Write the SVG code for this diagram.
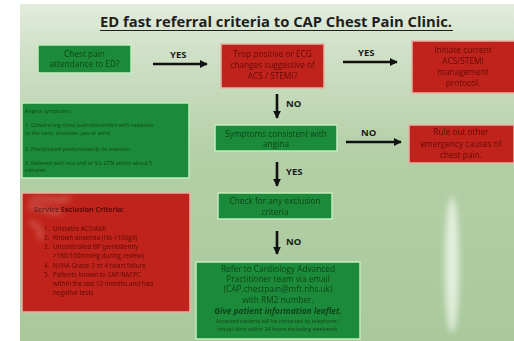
<svg xmlns="http://www.w3.org/2000/svg" width="514" height="341" viewBox="0 0 514 341">
<defs>
<linearGradient id="bg" x1="0" y1="0" x2="0" y2="1">
<stop offset="0" stop-color="#e2ecdc"/>
<stop offset="0.15" stop-color="#cfe0c6"/>
<stop offset="0.45" stop-color="#b3cfa6"/>
<stop offset="1" stop-color="#a9c89c"/>
</linearGradient>
<marker id="ah" viewBox="0 0 10 10" refX="9" refY="5" markerWidth="3" markerHeight="3" orient="auto" markerUnits="strokeWidth">
<path d="M0,0 L10,5 L0,10 Z" fill="#111"/>
</marker>
<filter id="blur" x="-50%" y="-50%" width="200%" height="200%"><feGaussianBlur stdDeviation="3"/></filter>
<filter id="soft"><feGaussianBlur stdDeviation="0.35"/></filter>
</defs>
<style>
.g{fill:#1f8a3b;stroke:#c4ecbc;stroke-width:1.5}
.r{fill:#c0241b;stroke:#e6b4a4;stroke-width:1.5}
.tg{font-family:"Open Sans","Noto Sans",sans-serif;font-size:8.3px;fill:#0b4518;text-anchor:middle}
.tr{font-family:"Open Sans","Noto Sans",sans-serif;font-size:8.3px;fill:#650a06;text-anchor:middle}
.lbl{font-family:"Open Sans","Noto Sans",sans-serif;font-size:9.5px;font-weight:bold;fill:#1a1a1a}
.ar{stroke:#111;stroke-width:2.6;fill:none;marker-end:url(#ah)}
.sg{font-family:"Open Sans","Noto Sans",sans-serif;font-size:5.4px;fill:#0b4518}
.sr{font-family:"Open Sans","Noto Sans",sans-serif;font-size:6.3px;fill:#5a0805}
.sm{font-size:5.3px}
.hd{font-size:7px;font-weight:bold}
.it{font-style:italic;font-weight:bold}
</style>
<rect width="514" height="341" fill="#ffffff"/>
<rect x="20" y="4" width="494" height="337" fill="url(#bg)"/>
<ellipse cx="452" cy="265" rx="7" ry="68" fill="#f4fbf0" opacity="0.75" filter="url(#blur)"/>
<g id="title">
<text x="276" y="27" font-family="Open Sans,Noto Sans,sans-serif" font-size="14.5" font-weight="bold" fill="#1e1e1e" text-anchor="middle" textLength="352" lengthAdjust="spacingAndGlyphs">ED fast referral criteria to CAP Chest Pain Clinic.</text>
<line x1="100" y1="30.5" x2="453" y2="30.5" stroke="#1e1e1e" stroke-width="1.1"/>
</g>
<g id="n1" filter="url(#soft)">
<rect class="g" x="38" y="45" width="93" height="28"/>
<text class="tg" x="84.5" y="57">Chest pain</text>
<text class="tg" x="84.5" y="67">attendance to ED?</text>
</g>
<g id="n2" filter="url(#soft)">
<rect class="r" x="221" y="44" width="103" height="44"/>
<text class="tr" x="272.5" y="57">Trop positive or ECG</text>
<text class="tr" x="272.5" y="68">changes suggestive of</text>
<text class="tr" x="272.5" y="79">ACS / STEMI?</text>
</g>
<g id="n3" filter="url(#soft)">
<rect class="r" x="412" y="41" width="103" height="52"/>
<text class="tr" x="463" y="53">Initiate current</text>
<text class="tr" x="463" y="64">ACS/STEMI</text>
<text class="tr" x="463" y="75">management</text>
<text class="tr" x="463" y="86">protocol.</text>
</g>
<g id="n4" filter="url(#soft)">
<rect class="g" x="22" y="103" width="167" height="75"/>
<text class="sg" x="25" y="113">Angina symptoms:</text>
<text class="sg" x="25" y="127">1. Constricting chest pain/discomfort with radiation</text>
<text class="sg" x="25" y="135">to the neck, shoulder, jaw or arms</text>
<text class="sg" x="25" y="151">2. Precipitated predominantly on exertion</text>
<text class="sg" x="25" y="165">3. Relieved with rest and or S/L GTN within about 5</text>
<text class="sg" x="25" y="172">minutes</text>
</g>
<g id="n5" filter="url(#soft)">
<rect class="g" x="215" y="125" width="122" height="26"/>
<text class="tg" x="276" y="137">Symptoms consistent with</text>
<text class="tg" x="276" y="147">angina</text>
</g>
<g id="n6" filter="url(#soft)">
<rect class="r" x="409" y="125" width="105" height="38"/>
<text class="tr" x="461" y="135">Rule out other</text>
<text class="tr" x="461" y="147">emergency causes of</text>
<text class="tr" x="461" y="158">chest pain.</text>
</g>
<g id="n7" filter="url(#soft)">
<rect class="r" x="22" y="193" width="168" height="119"/>
<text class="sr hd" x="34" y="212">Service Exclusion Criteria:</text>
<text class="sr" x="44" y="231">1.</text><text class="sr" x="53" y="231">Unstable ACS/AMI</text>
<text class="sr" x="44" y="240">2.</text><text class="sr" x="53" y="240">Known anaemia (Hb &lt;100g/l)</text>
<text class="sr" x="44" y="249">3.</text><text class="sr" x="53" y="249">Uncontrolled BP (persistently</text>
<text class="sr" x="53" y="258">&gt;180/100mmHg during review)</text>
<text class="sr" x="44" y="268">4.</text><text class="sr" x="53" y="268">NYHA Grade 3 or 4 heart failure</text>
<text class="sr" x="44" y="277">5.</text><text class="sr" x="53" y="277">Patients known to CAP/RACPC</text>
<text class="sr" x="53" y="286">within the last 12 months and had</text>
<text class="sr" x="53" y="295">negative tests</text>
<path d="M30,200 C45,196 55,204 70,198 M28,207 C40,206 48,214 62,212 M30,222 C38,224 42,232 40,240" stroke="#f4e6e0" stroke-width="2" fill="none" opacity="0.6" filter="url(#blur)"/>
</g>
<g id="n8" filter="url(#soft)">
<rect class="g" x="218" y="193" width="114" height="26"/>
<text class="tg" x="275" y="204">Check for any exclusion</text>
<text class="tg" x="275" y="215">criteria</text>
</g>
<g id="n9" filter="url(#soft)">
<rect class="g" x="196" y="262" width="164" height="77"/>
<text class="tg" x="278" y="272">Refer to Cardiology Advanced</text>
<text class="tg" x="278" y="282">Practitioner team via email</text>
<text class="tg" x="278" y="292">(CAP.chestpain@mft.nhs.uk)</text>
<text class="tg" x="278" y="303">with RM2 number.</text>
<text class="tg it" x="278" y="314">Give patient information leaflet.</text>
<text class="tg sm" x="278" y="323">Accepted patients will be contacted by telephone /</text>
<text class="tg sm" x="278" y="331">virtual clinic within 24 hours excluding weekends.</text>
</g>
<g id="connectors">
<line class="ar" x1="153" y1="64" x2="207" y2="64"/>
<line class="ar" x1="343" y1="62" x2="397" y2="62"/>
<line class="ar" x1="277" y1="94" x2="277" y2="118"/>
<line class="ar" x1="346" y1="142" x2="401" y2="142"/>
<line class="ar" x1="277" y1="162" x2="277" y2="186"/>
<line class="ar" x1="277" y1="231" x2="277" y2="254"/>
<text class="lbl" x="170" y="58">YES</text>
<text class="lbl" x="358" y="56">YES</text>
<text class="lbl" x="286" y="107">NO</text>
<text class="lbl" x="361" y="136">NO</text>
<text class="lbl" x="286" y="175">YES</text>
<text class="lbl" x="286" y="245">NO</text>
</g>
</svg>
